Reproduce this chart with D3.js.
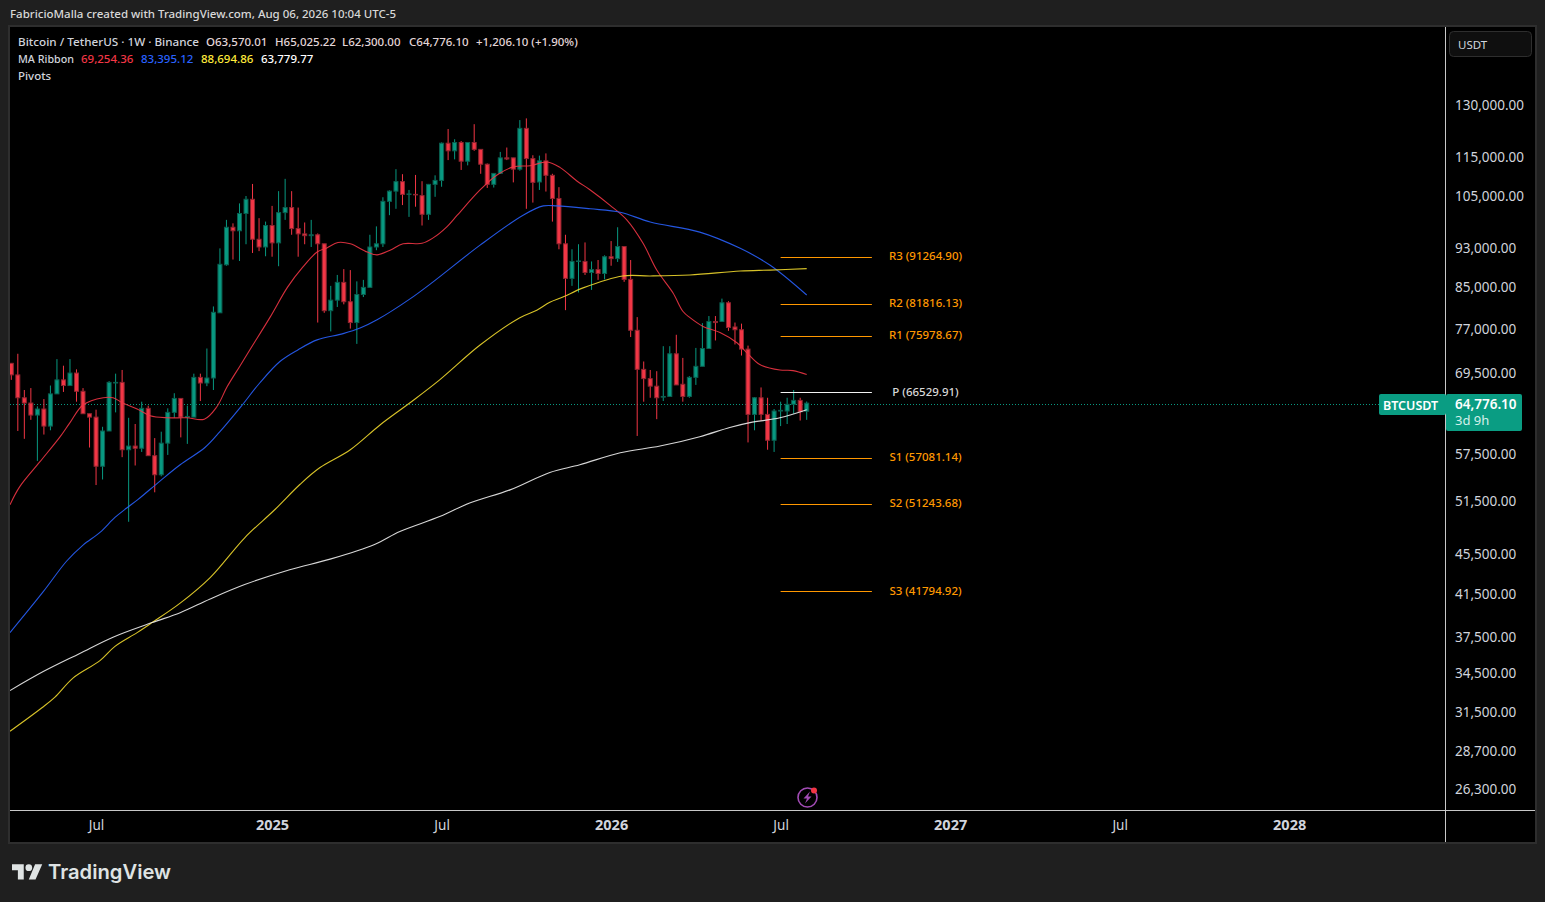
<!DOCTYPE html>
<html><head><meta charset="utf-8">
<script src="https://cdn.jsdelivr.net/npm/d3@7/dist/d3.min.js"></script>
<style>html,body{margin:0;padding:0;background:#1f1f1f;overflow:hidden}svg{display:block}</style>
</head><body><svg id="c" width="1545" height="902"></svg>
<script>
// Weekly candles, thousands of USDT, first bar Mon 2024-04-01
const firstWeek = "2024-04-01";
const lastWeek = "2026-08-03";
const opensK = [71.1,69.2,65.6,64.8,63.0,63.9,61.4,66.2,68.4,67.5,69.5,66.6,63.2,62.7,55.9,60.7,67.9,68.0,58.1,58.6,58.3,64.0,57.3,54.8,59.0,63.4,65.5,62.7,62.7,68.8,67.9,68.7,
80.0,89.5,97.7,96.9,100.9,104.3,95.0,93.3,98.1,94.2,101.1,102.3,97.4,96.2,95.8,96.0,94.0,80.4,82.4,85.9,82.1,78.2,83.5,84.9,93.3,94.0,103.8,106.3,108.7,105.5,105.5,105.2,100.7,108.0,109.0,118.9,116.8,119.1,114.0,119.1,117.2,113.2,108.0,110.8,114.9,114.9,111.9,123.1,114.7,108.6,114.1,110.3,104.5,94.0,
86.7,90.2,90.2,87.9,88.5,87.7,91.2,90.8,93.4,86.5,76.8,70.1,68.6,67.4,65.7,65.8,72.7,67.7,65.8,68.8,70.6,73.6,78.4,78.4,81.9,77.4,76.9,73.5,63.1,65.6,63.1,59.4,63.6,63.6,64.6,65.2,63.57001];
const highsK = [71.1,72.7,66.8,67.1,64.3,65.4,67.5,71.8,70.7,71.8,70.1,67.1,63.2,63.8,61.3,68.2,69.4,70.0,62.6,61.7,65.0,64.4,59.7,60.6,64.0,66.3,65.5,64.4,69.4,69.4,73.6,81.2,
93.0,99.4,98.6,103.3,105.1,108.1,99.8,99.0,102.7,106.3,109.4,106.3,102.3,98.8,99.4,96.3,94.0,85.2,87.4,88.6,88.4,86.1,86.4,96.0,97.9,104.8,106.5,111.9,110.6,106.6,110.4,108.8,108.1,110.3,119.1,122.9,120.0,119.5,119.1,124.3,117.2,113.4,110.9,116.5,117.7,114.9,125.5,126.0,115.6,115.5,116.1,110.7,107.3,96.0,
92.8,93.9,94.3,90.2,90.5,91.5,94.6,97.7,93.4,90.5,79.2,71.4,70.0,69.8,74.0,74.0,76.0,72.0,69.0,73.7,78.1,79.4,79.4,82.7,82.2,78.2,78.0,74.1,65.7,67.2,65.6,63.9,65.0,65.6,66.8,65.6,65.02522];
const lowsK = [68.4,60.7,59.6,62.3,56.6,60.2,60.8,66.2,66.5,67.5,65.0,63.2,58.4,53.5,54.2,60.7,63.4,57.1,49.1,56.0,57.8,57.3,52.6,54.6,57.4,62.6,59.8,58.9,62.7,65.1,67.4,66.8,
80.0,89.3,90.6,90.3,93.9,92.0,92.4,91.3,91.2,89.2,99.4,96.0,91.2,93.9,93.3,78.2,80.0,76.6,81.1,81.6,77.1,74.4,83.0,84.9,92.6,93.3,100.5,102.0,102.9,100.1,102.5,98.1,99.4,104.9,107.4,114.3,114.5,111.7,112.9,116.8,110.7,107.1,107.2,110.7,114.3,108.5,111.5,102.0,103.5,106.6,106.2,99.0,92.8,80.5,
85.2,83.9,87.4,84.4,86.4,86.5,89.3,90.1,86.0,75.6,60.0,65.0,65.6,62.4,65.1,65.8,67.6,65.0,65.6,67.6,70.6,73.6,75.0,78.3,76.7,74.3,72.4,59.1,60.8,62.2,58.1,57.8,61.4,61.7,63.2,62.2,62.3];
const closesK = [69.2,65.6,64.8,63.0,63.9,61.4,66.2,68.4,67.5,69.5,66.6,63.2,62.7,55.9,60.7,68.0,68.0,58.1,58.6,58.3,64.0,57.3,54.8,59.0,63.4,65.5,62.7,62.8,68.8,67.9,68.7,80.1,
89.6,97.7,96.9,100.9,104.3,95.0,93.3,98.1,94.2,101.1,102.3,97.4,96.2,95.8,96.0,94.0,80.4,82.4,85.9,82.1,78.2,83.5,84.9,93.3,94.0,103.8,106.3,108.7,105.5,105.6,105.4,100.7,108.0,109.0,118.9,116.8,119.1,114.0,119.1,117.2,113.2,108.0,110.8,114.9,114.6,111.9,123.1,114.7,108.5,114.1,110.3,104.5,94.0,86.7,
90.2,90.3,87.9,88.5,87.7,91.2,90.8,93.4,86.5,76.8,70.1,68.6,67.4,65.6,65.8,72.7,67.6,65.8,68.8,70.6,73.6,78.4,78.2,81.9,77.3,76.9,73.5,63.1,65.6,63.1,59.4,63.6,63.7,64.6,65.2,63.5,64.7761];

// Moving averages: week number since first bar, value in thousands
const maRedWeeks = [-0.2,1.3,4.4,7.5,9,11,14.1,15.6,17.1,19.3,21.3,23.9,26.9,29.6,31.5,33.1,35.1,36.6,39.7,42.4,44.7,46.9,48.4,50.1,52,54.6,56.1,58.1,60.1,63,64.7,66.8,68.4,71.9,74.5,77,79.6,82.2,84.2,86.8,88.8,91.8,94.4,96.9,99,101.5,103,104.1,106.1,108.7,111.3,112.8,114.8,117.9,119.9,122];
const maRedK = [51.1,53.3,56.5,59.9,61.9,64.5,65.6,65.6,64.8,63.9,62.9,62.6,62.6,62.4,64.2,67.3,70.7,73.4,79.2,85,89,92.2,93.1,94.3,94,92.2,91.6,92.6,94,94.1,95.3,97.8,100.5,106.6,110.4,112.5,112.8,113.8,112.3,108.8,106.6,102.9,99.4,94.1,88.4,83.8,80.3,79.1,77.5,76.4,74.6,72.9,70.9,70,69.9,69.25436];
const maBlueWeeks = [-0.2,4.9,8.5,11,13.6,15.9,17.7,19.4,22.8,25.9,29.7,32,35.1,38.1,41.2,44,46.9,50.9,53.5,56.1,61.1,64.7,71.9,78.5,81.6,83.7,88.8,93.4,98,105.6,111.8,116.4,122];
const maBlueK = [37.9,41.7,44.8,46.5,47.9,49.6,50.7,51.7,54,56.1,58.4,60.6,64.1,67.9,71.4,73.4,75.1,76.2,77.2,78.7,82.6,86,93.7,100.5,102.7,102.7,102,101.2,98.9,96.6,93,89.4,83.39512];
const maYellowWeeks = [-0.2,4.7,6.7,9.5,13.6,15.9,19.3,21.6,25.9,30.5,35.8,40.4,44.3,47.3,52,56.6,61.1,65.7,71.9,78,80.6,82.6,84.6,87.7,93.8,98,104.1,111.8,116.4,122];
const maYellowK = [30.1,31.8,32.6,34.1,35.5,36.7,37.9,38.8,40.6,43.1,47.3,50.5,53.6,55.7,58.1,61.6,64.8,68.4,74.2,79.1,80.5,82,83,84.8,87.2,87.2,87.4,88.2,88.4,88.69486];
const maWhiteWeeks = [-0.2,4.9,10.5,15.6,21.6,25.9,30.5,35.8,42.7,48.9,55.8,59.6,65.7,70.3,76.5,82.6,87.2,93.4,99.5,105.6,110.2,113.3,117.9,122];
const maWhiteK = [33.1,34.6,36.1,37.5,38.8,39.7,41,42.4,43.9,45,46.6,48,49.7,51.3,52.9,55.1,56.1,57.7,58.6,59.9,61.2,61.9,62.6,63.77977];

const pivotNames = ["R3","R2","R1","P","S1","S2","S3"];
const pivotValues = [91264.90,81816.13,75978.67,66529.91,57081.14,51243.68,41794.92];
const pivotStartWeek = 118, pivotEndWeek = 132;
const lastPrice = 64776.10;
const priceTicks = [130000,115000,105000,93000,85000,77000,69500,57500,51500,45500,41500,37500,34500,31500,28700,26300];
const timeTickDates = ["2024-07-01","2025-01-06","2025-07-07","2026-01-05","2026-07-06","2027-01-04","2027-07-05","2028-01-03"];
const timeTickLabels = ["Jul","2025","Jul","2026","Jul","2027","Jul","2028"];

const FONT = "'Noto Sans',sans-serif";
const UP="#089981", DOWN="#f23645", UPB="#0a5f50", DOWNB="#8f2530";
const svg = d3.select("#c").style("font-family",FONT);
const L=10,R=1535,T=27,B=842,AX=1445.5,AY=810.5;

const y = d3.scaleLog().domain([26300,130000]).range([789,105]);
const x = d3.scaleUtc().domain([new Date(firstWeek),new Date(lastWeek)]).range([11.3,806.7]);
const WEEK=7*864e5;
const xw = w => x(new Date(+new Date(firstWeek)+w*WEEK));

svg.append("rect").attr("width",1545).attr("height",902).attr("fill","#1f1f1f");
svg.append("rect").attr("x",L-1).attr("y",T-1).attr("width",R-L+2).attr("height",B-T+2).attr("fill","#000").attr("stroke","#2e2e2e").attr("stroke-width",2);
svg.append("clipPath").attr("id","plot").append("rect").attr("x",L).attr("y",T).attr("width",AX-L).attr("height",AY-T);

const g = svg.append("g").attr("clip-path","url(#plot)");
// price line
const lastY = Math.round(y(lastPrice)+.7)+.5;
g.append("line").attr("x1",L).attr("x2",1380).attr("y1",lastY).attr("y2",lastY).attr("stroke",UP).attr("stroke-dasharray","1 2");

// candles
const idx = d3.range(opensK.length);
const c = g.append("g").selectAll("g").data(idx).join("g");
c.append("line").attr("x1",i=>xw(i)).attr("x2",i=>xw(i)).attr("y1",i=>y(highsK[i]*1e3)).attr("y2",i=>y(lowsK[i]*1e3))
 .attr("stroke",i=>closesK[i]>=opensK[i]?UP:DOWN);
c.append("rect").attr("x",i=>xw(i)-2).attr("width",4)
 .attr("y",i=>y(Math.max(opensK[i],closesK[i])*1e3))
 .attr("height",i=>Math.max(.5,y(Math.min(opensK[i],closesK[i])*1e3)-y(Math.max(opensK[i],closesK[i])*1e3)))
 .attr("fill",i=>closesK[i]>=opensK[i]?UP:DOWN)
 .attr("stroke",i=>closesK[i]>=opensK[i]?UPB:DOWNB);

// moving averages
const line = d3.line().x(d=>xw(d[0])).y(d=>y(d[1]*1e3)).curve(d3.curveCatmullRom.alpha(.5));
[[maRedWeeks,maRedK,"#f23645"],[maBlueWeeks,maBlueK,"#2962ff"],[maYellowWeeks,maYellowK,"#f5dd2e"],[maWhiteWeeks,maWhiteK,"#f4f4f4"]].forEach(m=>{
  g.append("path").attr("d",line(d3.zip(m[0],m[1]))).attr("fill","none").attr("stroke",m[2]).attr("stroke-width",1.1).attr("stroke-opacity",.88);
});

// pivots
pivotNames.forEach((n,i)=>{
  const isP = n==="P";
  const py = Math.round(y(pivotValues[i])+.7)+.5;
  g.append("line").attr("x1",xw(pivotStartWeek)).attr("x2",xw(pivotEndWeek)).attr("y1",py).attr("y2",py).attr("stroke",isP?"#f2f2f2":"#ff9800");
  g.append("text").attr("x",925.5).attr("y",y(pivotValues[i])+4).attr("text-anchor","middle").attr("fill",isP?"#d8d8d8":"#ff9800")
   .attr("font-size",11.5).attr("font-weight",500).text(`${n} (${pivotValues[i].toFixed(2)})`);
});

// axes
const yAxis = d3.axisRight(y).tickValues(priceTicks).tickSize(0).tickPadding(9.5).tickFormat(d3.format(",.2f"));
const ya = svg.append("g").attr("transform",`translate(${AX},0)`).call(yAxis);
ya.select(".domain").remove();
ya.selectAll("text").attr("fill","#d1d4dc").attr("font-size",13.5).attr("font-family",FONT);
const xAxis = d3.axisBottom(x).tickValues(timeTickDates.map(d=>new Date(d))).tickSize(0).tickPadding(9.5)
  .tickFormat((d,i)=>timeTickLabels[i]);
const xa = svg.append("g").attr("transform",`translate(0,${AY})`).call(xAxis);
xa.select(".domain").remove();
xa.selectAll("text").attr("fill","#d1d4dc").attr("font-family",FONT)
  .attr("font-size",(d,i)=>timeTickLabels[i]==="Jul"?13.5:14.5)
  .attr("font-weight",(d,i)=>timeTickLabels[i]==="Jul"?400:700);

svg.append("line").attr("x1",L).attr("x2",R).attr("y1",AY).attr("y2",AY).attr("stroke","#c8c8c8");
svg.append("line").attr("x1",AX).attr("x2",AX).attr("y1",T).attr("y2",B).attr("stroke","#c8c8c8");

// USDT button
svg.append("rect").attr("x",1449.5).attr("y",31.5).attr("width",82).attr("height",25).attr("rx",4).attr("fill","#0f0f0f").attr("stroke","#2e2e2e");
svg.append("text").attr("x",1458).attr("y",49).attr("fill","#d1d4dc").attr("font-size",11.5).text("USDT");

// last price tags
svg.append("rect").attr("x",1379).attr("y",394).attr("width",67).attr("height",21).attr("rx",2).attr("fill","#0a9d83");
svg.append("rect").attr("x",1446).attr("y",394).attr("width",76).attr("height",37).attr("rx",2).attr("fill","#0a9d83");
svg.append("text").attr("x",1383).attr("y",410).attr("fill","#fff").attr("font-size",12.5).attr("font-weight",600).text("BTCUSDT");
svg.append("text").attr("x",1455).attr("y",409).attr("fill","#fff").attr("font-size",13.5).attr("font-weight",600).text(d3.format(",.2f")(lastPrice));
svg.append("text").attr("x",1455).attr("y",425).attr("fill","#d5f0ea").attr("font-size",13).text("3d 9h");

// header
svg.append("text").attr("x",10).attr("y",18).attr("fill","#d8d8d8").attr("font-size",11.5).attr("font-weight",500).text("FabricioMalla created with TradingView.com, Aug 06, 2026 10:04 UTC-5");
const legendRows = [
 [46,18,"Bitcoin / TetherUS · 1W · Binance","#d1d4dc",181],
 [46,206,"O63,570.01","#e3d6d8"],[46,275,"H65,025.22","#e3d6d8"],[46,342,"L62,300.00","#e3d6d8"],[46,409,"C64,776.10","#e3d6d8"],[46,476,"+1,206.10 (+1.90%)","#e3d6d8"],
 [63,18,"MA Ribbon","#d1d4dc",56],[63,81,"69,254.36","#f23645"],[63,141,"83,395.12","#2962ff"],[63,201,"88,694.86","#ffeb3b"],[63,261,"63,779.77","#ffffff"],
 [80,18,"Pivots","#d1d4dc"]];
legendRows.forEach(r=>{
  const t = svg.append("text").attr("x",r[1]).attr("y",r[0]).attr("fill",r[3]).attr("font-size",11.5).attr("font-weight",500).text(r[2]);
  if(r[4]) t.attr("textLength",r[4]).attr("lengthAdjust","spacingAndGlyphs");
});

// lightning icon
const ic = svg.append("g").attr("transform","translate(807.5,797.5)");
ic.append("circle").attr("r",9.5).attr("fill","none").attr("stroke","#a24bb5").attr("stroke-width",1.6);
ic.append("path").attr("d","M2.5,-6 L-4,1 L-0.5,1 L-2.5,6 L4,-1 L0.5,-1 Z").attr("fill","#a24bb5");
ic.append("circle").attr("cx",6.5).attr("cy",-7).attr("r",3).attr("fill","#f23645");

// TradingView logo
const lg = svg.append("g").attr("transform","translate(12,863.5) scale(0.84)").attr("fill","#dfe3e3");
lg.append("path").attr("d","M14 19H7V8H0V1h14v18zM28 19h-8l7.5-18H36l-8 18z");
lg.append("circle").attr("cx",20).attr("cy",5).attr("r",4);
svg.append("text").attr("x",48).attr("y",879).attr("fill","#dfe3e3").attr("font-family","Inter,sans-serif").attr("font-size",20.2).attr("font-weight",600).text("TradingView");
</script></body></html>
